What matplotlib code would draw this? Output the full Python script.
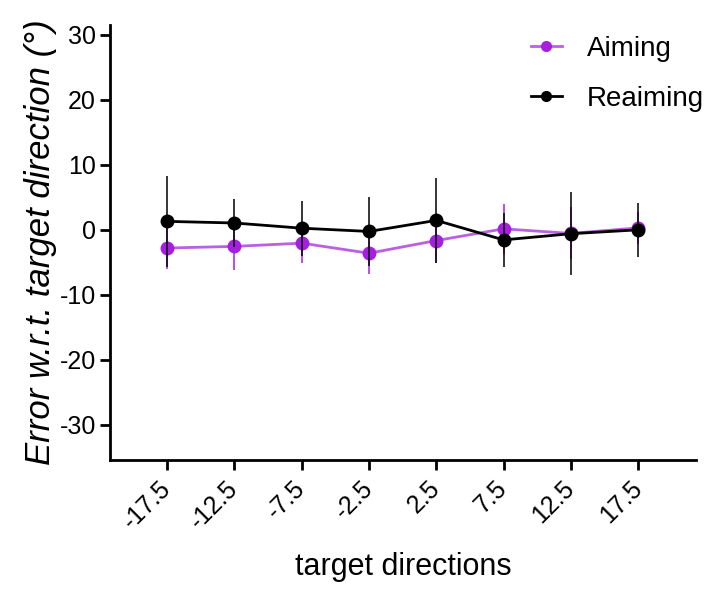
"""Aiming vs. reaiming error across target directions."""
import matplotlib

matplotlib.use("Agg")
import matplotlib.pyplot as plt
import numpy as np

plt.rcParams["font.family"] = ["Liberation Sans", "DejaVu Sans"]
plt.rcParams["axes.unicode_minus"] = False

# target directions (deg) and mean error +/- error bar per condition
directions = ["-17.5", "-12.5", "-7.5", "-2.5", "2.5", "7.5", "12.5", "17.5"]
aiming_mean = [-2.8, -2.55, -2.05, -3.6, -1.65, 0.15, -0.55, 0.3]
aiming_err = [3.2, 3.7, 3.0, 3.2, 3.5, 3.8, 4.0, 2.5]
reaiming_mean = [1.3, 1.05, 0.25, -0.25, 1.45, -1.55, -0.6, 0.0]
reaiming_err = [7.0, 3.7, 4.2, 5.3, 6.5, 4.2, 6.4, 4.2]

PURPLE = "#a61fe0"
PURPLE_LINE = "#bb5fe3"

fig = plt.figure(figsize=(7.16, 5.89), dpi=100)
ax = fig.add_axes([110 / 716, (589 - 460) / 589, (696 - 110) / 716, (460 - 25) / 589])

x = np.arange(len(directions))

# aiming: lighter line, saturated markers
ax.errorbar(x, aiming_mean, yerr=aiming_err, fmt="none", ecolor=PURPLE, elinewidth=1.1, zorder=2)
ax.plot(x, aiming_mean, color=PURPLE_LINE, linewidth=2.0, zorder=3)
ax.plot(x, aiming_mean, "o", color=PURPLE, markersize=9, zorder=4)
ax.plot([], [], "-o", color=PURPLE_LINE, markerfacecolor=PURPLE, markeredgecolor=PURPLE,
        linewidth=2.0, markersize=7, label="Aiming")

ax.errorbar(x, reaiming_mean, yerr=reaiming_err, fmt="-o", color="black", ecolor="black",
            elinewidth=1.1, linewidth=2.0, markersize=9, zorder=5)
ax.plot([], [], "-o", color="black", linewidth=2.0, markersize=7, label="Reaiming")

ax.set_xlim(-0.85, 7.86)
ax.set_ylim(-35.4, 31.5)
ax.set_yticks([-30, -20, -10, 0, 10, 20, 30])
ax.set_xticks(x)
ax.set_xticklabels(directions, rotation=45, ha="right", va="center", rotation_mode="anchor")

for side in ("top", "right"):
    ax.spines[side].set_visible(False)
for side in ("left", "bottom"):
    ax.spines[side].set_linewidth(2.0)
ax.tick_params(width=2.0, length=7, labelsize=18, direction="out")
ax.tick_params(axis="y", pad=3)
ax.tick_params(axis="x", pad=11)

ax.set_ylabel("Error w.r.t. target direction (°)", fontsize=25, style="italic", labelpad=2)
ax.set_xlabel("target directions", fontsize=22, labelpad=13)

ax.legend(loc="upper left", bbox_to_anchor=(0.676, 1.032), frameon=False, fontsize=20,
          handlelength=1.1, handletextpad=0.9, labelspacing=0.85)

fig.savefig("out.png", dpi=100)
